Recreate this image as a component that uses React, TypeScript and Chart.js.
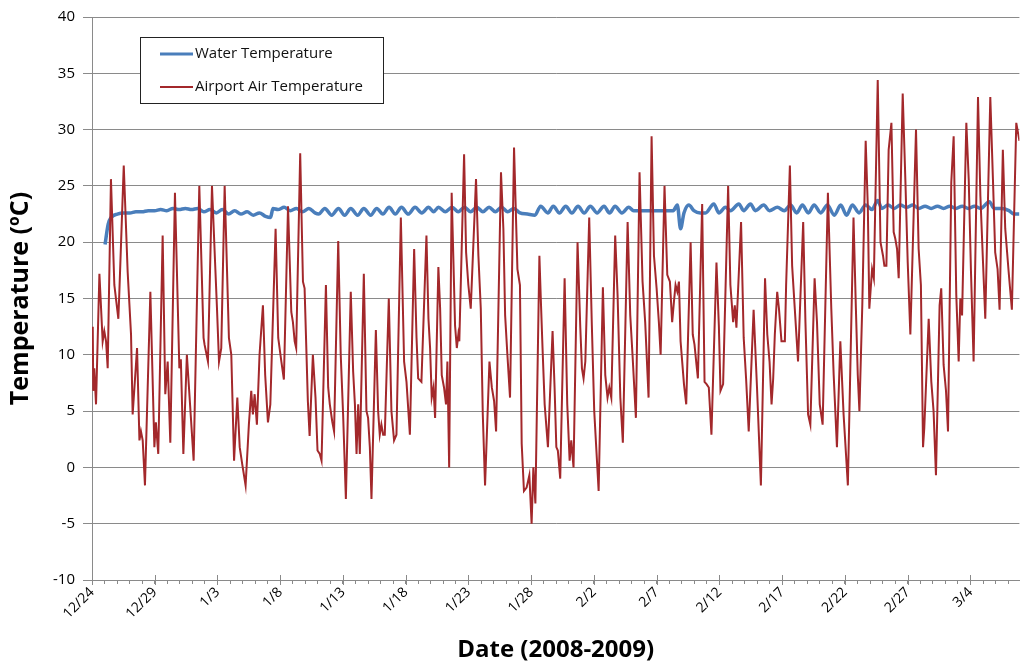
import { useEffect, useRef } from 'react';
import { Chart, registerables } from 'chart.js';

Chart.register(...registerables);

// Days since 12/24/2008 00:00 and temperature (°C)
const waterSeries: [number, number][] = [
  [1.04, 19.8], [1.29, 21.6], [1.53, 22.2], [2.02, 22.5], [2.52, 22.6], [3.01, 22.6], [3.5, 22.7], [3.99, 22.7],
  [4.48, 22.8], [4.98, 22.8], [5.47, 22.9], [5.96, 22.8], [6.45, 23.0], [6.94, 22.9], [7.44, 23.0], [7.93, 22.9],
  [8.42, 23.0], [8.91, 22.7], [9.4, 22.9], [9.9, 22.6], [10.39, 22.9], [10.88, 22.5], [11.37, 22.8], [11.86, 22.5],
  [12.36, 22.7], [12.85, 22.4], [13.34, 22.6], [13.83, 22.3], [14.23, 22.2], [14.42, 23.0], [14.82, 22.9], [15.31, 23.1],
  [15.8, 22.8], [16.29, 23.0], [16.78, 22.7], [17.28, 23.0], [17.77, 22.6], [18.06, 22.5], [18.55, 23.0], [19.1, 22.4],
  [19.64, 23.0], [20.13, 22.4], [20.62, 23.0], [21.16, 22.4], [21.66, 23.0], [22.2, 22.4], [22.69, 23.0], [23.18, 22.5],
  [23.67, 23.1], [24.17, 22.5], [24.66, 23.1], [25.2, 22.5], [25.74, 23.1], [26.28, 22.6], [26.82, 23.1], [27.22, 22.7],
  [27.61, 23.1], [28.15, 22.7], [28.69, 23.1], [29.18, 22.7], [29.68, 23.1], [30.17, 22.7], [30.66, 23.1], [31.15, 22.7],
  [31.64, 23.1], [32.14, 22.7], [32.63, 23.1], [33.12, 22.7], [33.61, 23.0], [34.1, 22.6], [34.69, 22.5], [35.29, 22.4],
  [35.75, 23.2], [36.32, 22.6], [36.76, 23.2], [37.25, 22.6], [37.75, 23.2], [38.24, 22.6], [38.73, 23.2], [39.22, 22.6],
  [39.71, 23.2], [40.25, 22.6], [40.8, 23.2], [41.24, 22.6], [41.68, 23.2], [42.22, 22.6], [42.77, 23.1], [43.16, 22.8],
  [43.85, 22.8], [44.54, 22.8], [45.32, 22.8], [46.01, 22.8], [46.31, 22.8], [46.64, 23.3], [46.9, 21.2], [47.17, 22.6],
  [47.56, 23.3], [47.96, 22.8], [48.47, 22.6], [48.89, 22.6], [49.55, 23.4], [49.95, 22.6], [50.48, 23.1], [50.87, 22.8],
  [51.54, 23.4], [51.93, 22.8], [52.47, 23.4], [52.86, 22.8], [53.53, 23.3], [53.98, 22.8], [54.61, 23.1], [55.16, 22.8],
  [55.67, 23.3], [56.15, 22.6], [56.61, 23.3], [57.08, 22.6], [57.54, 23.3], [58.07, 22.6], [58.6, 23.3], [59.15, 22.4],
  [59.66, 23.3], [60.13, 22.4], [60.59, 23.3], [61.12, 22.6], [61.65, 23.3], [62.15, 22.9], [62.61, 23.7], [62.94, 23.0],
  [63.43, 23.3], [63.92, 23.0], [64.41, 23.3], [64.91, 23.1], [65.4, 23.3], [65.89, 23.0], [66.38, 23.2], [66.87, 23.0],
  [67.37, 23.2], [67.86, 23.0], [68.35, 23.2], [68.84, 23.0], [69.34, 23.2], [69.83, 23.0], [70.32, 23.2], [70.81, 23.0],
  [71.5, 23.6], [71.89, 23.0], [72.49, 23.0], [73.07, 22.8], [73.47, 22.5], [73.9, 22.5],
];

const airSeries: [number, number][] = [
  [0.06, 12.5], [0.1, 6.8], [0.18, 8.8], [0.32, 5.6], [0.59, 17.2], [0.85, 11.2], [0.98, 12.1], [1.12, 11.2],
  [1.25, 8.8], [1.51, 25.6], [1.78, 16.2], [2.1, 13.2], [2.18, 15.6], [2.53, 26.8], [2.84, 17.4], [3.11, 11.8],
  [3.24, 4.7], [3.59, 10.6], [3.78, 2.4], [3.9, 3.2], [4.04, 2.4], [4.22, -1.6], [4.65, 15.6], [4.97, 1.8],
  [5.09, 4.0], [5.28, 1.2], [5.63, 20.6], [5.84, 6.5], [6.03, 9.4], [6.24, 2.2], [6.61, 24.4], [6.96, 8.8],
  [7.08, 9.6], [7.28, 1.2], [7.56, 10.0], [8.1, 0.6], [8.55, 25.0], [8.89, 11.5], [8.97, 10.9], [9.24, 9.4],
  [9.56, 25.0], [9.83, 17.6], [9.96, 14.1], [10.12, 9.4], [10.3, 10.6], [10.57, 25.0], [10.91, 11.5], [11.1, 10.0],
  [11.32, 0.6], [11.58, 6.2], [11.77, 1.8], [11.97, 0.3], [12.24, -1.6], [12.5, 3.8], [12.69, 6.8], [12.82, 4.7],
  [12.96, 6.5], [13.14, 3.8], [13.35, 10.0], [13.62, 14.4], [13.8, 8.2], [14.02, 4.0], [14.21, 5.6], [14.63, 21.2],
  [14.84, 11.5], [15.09, 9.4], [15.29, 7.8], [15.62, 23.2], [15.88, 13.8], [16.01, 12.9], [16.15, 11.2], [16.27, 10.6],
  [16.59, 27.9], [16.81, 16.5], [16.94, 15.9], [17.2, 5.9], [17.34, 2.8], [17.6, 10.0], [17.81, 6.2], [17.97, 1.5],
  [18.15, 1.2], [18.29, 0.6], [18.64, 16.2], [18.82, 7.1], [18.95, 5.6], [19.14, 4.1], [19.29, 3.2], [19.62, 20.1],
  [19.82, 10.0], [20.01, 4.7], [20.23, -2.8], [20.62, 15.6], [20.81, 8.5], [20.95, 5.6], [21.08, 1.2], [21.21, 5.6],
  [21.34, 1.2], [21.66, 17.2], [21.87, 5.0], [22.0, 4.4], [22.14, 1.8], [22.27, -2.8], [22.62, 12.2], [22.8, 5.0],
  [22.93, 2.9], [23.06, 3.8], [23.2, 2.9], [23.33, 2.9], [23.65, 15.0], [23.86, 5.0], [24.07, 2.4], [24.26, 2.9],
  [24.61, 22.2], [24.87, 9.4], [25.06, 7.6], [25.33, 2.9], [25.67, 19.4], [25.86, 11.5], [25.99, 7.9], [26.25, 7.6],
  [26.65, 20.6], [26.81, 13.2], [26.94, 10.6], [27.07, 6.2], [27.21, 7.1], [27.34, 4.4], [27.6, 17.8], [27.74, 14.1],
  [27.87, 8.2], [28.05, 7.1], [28.21, 5.6], [28.32, 9.4], [28.46, 0.0], [28.66, 24.4], [28.93, 12.6], [29.07, 10.6],
  [29.19, 11.8], [29.27, 11.2], [29.65, 27.8], [29.81, 19.1], [29.99, 16.2], [30.18, 14.1], [30.6, 25.6], [30.79, 18.8],
  [30.98, 14.1], [31.14, 4.7], [31.32, -1.6], [31.67, 9.4], [31.86, 7.1], [32.04, 5.9], [32.2, 3.2], [32.59, 26.2],
  [32.78, 21.2], [32.92, 13.5], [33.1, 10.0], [33.31, 6.2], [33.63, 28.4], [33.9, 17.6], [34.1, 16.2], [34.24, 2.1],
  [34.42, -2.1], [34.63, -1.8], [34.85, -0.7], [35.03, -5.0], [35.17, 0.0], [35.33, -3.2], [35.65, 18.8], [35.78, 14.4],
  [35.9, 10.6], [36.07, 5.6], [36.33, 1.8], [36.7, 12.1], [36.86, 7.1], [37.0, 1.8], [37.12, 1.5], [37.31, -1.0],
  [37.66, 16.8], [37.87, 5.6], [38.06, 0.6], [38.19, 2.4], [38.37, 0.0], [38.69, 20.0], [38.91, 12.4], [39.04, 8.8],
  [39.17, 7.9], [39.31, 9.4], [39.62, 22.2], [39.83, 12.6], [40.02, 5.0], [40.37, -2.1], [40.71, 16.0], [40.9, 8.2],
  [41.08, 6.2], [41.22, 7.1], [41.38, 6.2], [41.69, 20.6], [41.88, 15.3], [42.1, 6.2], [42.3, 2.2], [42.68, 21.8],
  [42.89, 13.5], [43.07, 10.0], [43.34, 4.4], [43.63, 26.2], [43.87, 16.5], [44.08, 12.9], [44.35, 6.2], [44.59, 29.4],
  [44.78, 18.8], [44.99, 15.9], [45.17, 12.9], [45.31, 10.0], [45.62, 25.0], [45.84, 17.1], [46.05, 16.5], [46.23, 12.9],
  [46.37, 14.7], [46.5, 16.2], [46.64, 15.6], [46.77, 16.5], [46.9, 11.2], [47.17, 7.4], [47.35, 5.6], [47.7, 20.0],
  [47.87, 11.8], [48.01, 10.9], [48.17, 9.1], [48.28, 7.9], [48.62, 23.4], [48.81, 7.6], [48.97, 7.4], [49.15, 7.1],
  [49.36, 2.9], [49.76, 18.2], [49.95, 12.6], [50.08, 6.8], [50.29, 7.4], [50.69, 25.0], [50.87, 16.2], [51.09, 12.9],
  [51.22, 14.4], [51.35, 12.4], [51.72, 21.8], [51.93, 11.5], [52.12, 7.9], [52.33, 3.2], [52.72, 14.0], [52.99, 7.1],
  [53.3, -1.6], [53.63, 16.8], [53.81, 11.8], [53.99, 9.4], [54.15, 5.6], [54.28, 7.9], [54.41, 11.8], [54.6, 15.6],
  [54.74, 14.1], [54.94, 11.2], [55.21, 11.2], [55.31, 16.2], [55.61, 26.8], [55.79, 17.9], [56.0, 14.1], [56.26, 9.4],
  [56.67, 21.8], [56.85, 12.9], [57.06, 4.7], [57.24, 3.8], [57.58, 16.8], [57.77, 12.9], [57.99, 5.6], [58.22, 3.8],
  [58.64, 24.4], [58.91, 14.1], [59.1, 8.2], [59.36, 1.8], [59.63, 11.2], [59.89, 4.7], [60.08, 1.2], [60.23, -1.6],
  [60.68, 22.2], [60.87, 14.1], [61.02, 8.2], [61.15, 5.0], [61.38, 14.4], [61.65, 29.0], [61.82, 23.2], [61.94, 14.1],
  [62.16, 17.6], [62.3, 16.8], [62.61, 34.4], [62.83, 20.0], [63.03, 18.8], [63.14, 17.9], [63.3, 17.9], [63.48, 28.2],
  [63.7, 30.6], [63.88, 20.9], [64.01, 20.3], [64.15, 19.4], [64.28, 16.8], [64.6, 33.2], [64.81, 25.6], [65.0, 18.2],
  [65.21, 11.8], [65.66, 30.0], [65.87, 19.4], [66.05, 16.2], [66.22, 1.8], [66.32, 3.5], [66.67, 13.2], [66.88, 7.6],
  [67.06, 5.0], [67.25, -0.7], [67.54, 14.4], [67.67, 15.9], [67.86, 9.1], [68.05, 6.8], [68.21, 3.2], [68.47, 25.3],
  [68.66, 29.4], [68.87, 15.3], [69.06, 9.4], [69.19, 15.0], [69.33, 13.5], [69.67, 30.6], [69.86, 25.6], [70.04, 17.4],
  [70.25, 9.4], [70.6, 32.9], [70.79, 24.1], [71.0, 18.2], [71.18, 13.2], [71.58, 32.9], [71.79, 25.6], [71.97, 19.1],
  [72.16, 17.6], [72.32, 14.0], [72.58, 28.2], [72.77, 21.2], [73.04, 17.4], [73.3, 14.0], [73.65, 30.6], [73.9, 29.0],
];

const seriesNames = ['Water Temperature', 'Airport Air Temperature'];
const seriesColors = ['#4a7ebb', '#a3282b'];
const dateTickLabels = ['12/24', '12/29', '1/3', '1/8', '1/13', '1/18', '1/23', '1/28', '2/2', '2/7', '2/12', '2/17', '2/22', '2/27', '3/4'];
const xMax = 73.9;
const yMin = -10;
const yMax = 40;
const yStep = 5;

const FONT = "'Open Sans', 'DejaVu Sans', sans-serif";
const GRID = '#8a8a8a';

const axisTicksPlugin = {
  id: 'axisTicks',
  afterDraw(chart: any) {
    const { ctx, scales } = chart;
    const x = scales.x;
    const yPix = chart.chartArea.bottom;
    ctx.save();
    ctx.strokeStyle = GRID;
    ctx.lineWidth = 1;
    ctx.beginPath();
    dateTickLabels.forEach((_, i) => {
      const px = Math.round(x.getPixelForValue(i * 5)) + 0.5;
      ctx.moveTo(px, yPix - 5);
      ctx.lineTo(px, yPix + 5);
    });
    ctx.stroke();
    ctx.restore();
  },
};

const boxLegendPlugin = {
  id: 'boxLegend',
  afterDraw(chart: any) {
    const { ctx } = chart;
    ctx.save();
    const bx = 140.5, by = 37.5, bw = 243, bh = 66;
    ctx.fillStyle = '#ffffff';
    ctx.fillRect(bx, by, bw, bh);
    ctx.strokeStyle = '#222';
    ctx.lineWidth = 1;
    ctx.strokeRect(bx, by, bw, bh);
    chart.data.datasets.forEach((ds: any, i: number) => {
      const cy = 54 + i * 33;
      ctx.strokeStyle = ds.borderColor;
      ctx.lineWidth = i === 0 ? 3 : 2;
      ctx.beginPath();
      ctx.moveTo(160, cy);
      ctx.lineTo(193, cy);
      ctx.stroke();
      ctx.fillStyle = '#111';
      ctx.font = `15px ${FONT}`;
      ctx.textBaseline = 'middle';
      ctx.textAlign = 'left';
      ctx.fillText(ds.label, 195, cy);
    });
    ctx.restore();
  },
};

export default function App() {
  const canvasRef = useRef<HTMLCanvasElement | null>(null);

  useEffect(() => {
    const canvas = canvasRef.current;
    if (!canvas) return;
    const chart = new Chart(canvas, {
      type: 'line',
      data: {
        datasets: [
          {
            label: seriesNames[0],
            data: waterSeries.map(([x, y]) => ({ x, y })),
            borderColor: seriesColors[0],
            borderWidth: 3.5,
            pointRadius: 0,
            cubicInterpolationMode: 'monotone',
            order: 1,
          },
          {
            label: seriesNames[1],
            data: airSeries.map(([x, y]) => ({ x, y })),
            borderColor: seriesColors[1],
            borderWidth: 2,
            pointRadius: 0,
            tension: 0,
            order: 0,
          },
        ],
      },
      options: {
        animation: false,
        responsive: false,
        layout: { padding: { top: 13, left: 0, right: 0, bottom: 0 } },
        plugins: { legend: { display: false }, tooltip: { enabled: false } },
        scales: {
          x: {
            type: 'linear',
            min: 0,
            max: xMax,
            afterBuildTicks: (scale: any) => {
              const t = [];
              for (let d = 0; d <= Math.floor(xMax); d++) t.push({ value: d });
              scale.ticks = t;
            },
            afterFit: (scale: any) => {
              scale.height = 88;
            },
            ticks: {
              autoSkip: false,
              maxRotation: 45,
              minRotation: 45,
              padding: 0,
              color: '#000',
              font: { family: FONT, size: 14 },
              callback: (v: any) => {
                const n = Number(v);
                return n % 5 === 0 && n / 5 < dateTickLabels.length ? dateTickLabels[n / 5] : '';
              },
            },
            grid: { drawOnChartArea: false, tickLength: 4, color: GRID },
            border: { color: GRID },
            title: {
              display: true,
              text: 'Date (2008-2009)',
              color: '#000',
              font: { family: FONT, size: 24, weight: 'bold' },
              padding: { top: 0, bottom: 3 },
            },
          },
          y: {
            min: yMin,
            max: yMax,
            afterFit: (scale: any) => {
              scale.width = 92;
            },
            ticks: {
              stepSize: yStep,
              padding: 8,
              color: '#000',
              font: { family: FONT, size: 15 },
            },
            grid: { color: GRID, tickLength: 9 },
            border: { color: GRID },
            title: {
              display: true,
              text: 'Temperature (ºC)',
              color: '#000',
              font: { family: FONT, size: 25, weight: 'bold' },
              padding: { top: 6, bottom: 0 },
            },
          },
        },
      },
      plugins: [axisTicksPlugin, boxLegendPlugin],
    } as any);
    return () => chart.destroy();
  }, []);

  return (
    <div style={{ position: 'absolute', left: 0, top: 0, width: 1020, height: 668, background: '#fff' }}>
      <canvas ref={canvasRef} width={1020} height={668} />
    </div>
  );
}
